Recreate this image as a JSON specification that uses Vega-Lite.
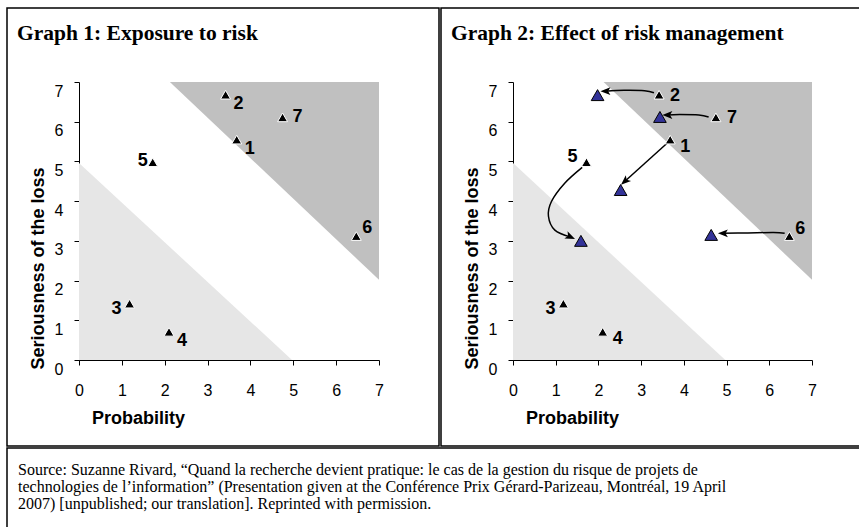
{
  "$schema": "https://vega.github.io/schema/vega-lite/v6.json",
  "background": "white",
  "padding": {"left": 6, "top": 7, "right": 0, "bottom": 0},
  "spacing": 0,
  "config": {
    "view": {"stroke": "#000", "strokeWidth": 1.5},
    "concat": {"spacing": 0},
    "axis": {"grid": false, "domainColor": "#000", "domainWidth": 1, "tickColor": "#000", "tickWidth": 1, "tickSize": 5, "labelFont": "Liberation Sans", "labelFontSize": 16, "labelColor": "#000", "labelFlush": false, "labelOverlap": false, "titleFont": "Liberation Sans", "titleFontSize": 18, "titleFontWeight": "bold", "titleColor": "#000"},
    "axisX": {"offset": -86, "labelPadding": 17, "titleX": 131, "titleY": 58, "titleBaseline": "middle"},
    "axisY": {"offset": -72, "labelPadding": 11, "labelOffset": 9, "titleX": -41, "titleY": 260, "titleBaseline": "middle"}
  },
  "datasets": {
    "light": [{"x": 0, "y": 4.96}, {"x": 4.97, "y": 0}],
    "dark": [{"x": 2.12, "y": 7, "y2": 7}, {"x": 7, "y": 7, "y2": 2.02}],
    "pts": [
      {"id": "1", "x": 3.68, "y": 5.55},
      {"id": "2", "x": 3.42, "y": 6.68},
      {"id": "3", "x": 1.18, "y": 1.42},
      {"id": "4", "x": 2.1, "y": 0.71},
      {"id": "5", "x": 1.72, "y": 4.98},
      {"id": "6", "x": 6.47, "y": 3.12},
      {"id": "7", "x": 4.75, "y": 6.11}
    ],
    "managed": [
      {"id": "1", "x": 2.52, "y": 4.28},
      {"id": "2", "x": 1.98, "y": 6.67},
      {"id": "5", "x": 1.59, "y": 3.0},
      {"id": "6", "x": 4.64, "y": 3.15},
      {"id": "7", "x": 3.44, "y": 6.12}
    ],
    "arrows": [
      {"id": "2", "step": 1, "x": 3.3, "y": 6.73},
      {"id": "2", "step": 2, "x": 3.08, "y": 6.78},
      {"id": "2", "step": 3, "x": 2.6, "y": 6.79},
      {"id": "2", "step": 4, "x": 2.17, "y": 6.77},
      {"id": "7", "step": 1, "x": 4.58, "y": 6.12},
      {"id": "7", "step": 2, "x": 4.35, "y": 6.17},
      {"id": "7", "step": 3, "x": 3.9, "y": 6.18},
      {"id": "7", "step": 4, "x": 3.62, "y": 6.17},
      {"id": "1", "step": 1, "x": 3.6, "y": 5.45},
      {"id": "1", "step": 2, "x": 2.62, "y": 4.5},
      {"id": "5", "step": 1, "x": 1.62, "y": 4.85},
      {"id": "5", "step": 2, "x": 1.21, "y": 4.45},
      {"id": "5", "step": 3, "x": 0.9, "y": 3.99},
      {"id": "5", "step": 4, "x": 0.83, "y": 3.62},
      {"id": "5", "step": 5, "x": 0.98, "y": 3.27},
      {"id": "5", "step": 6, "x": 1.34, "y": 3.1},
      {"id": "6", "step": 1, "x": 6.36, "y": 3.19},
      {"id": "6", "step": 2, "x": 6.1, "y": 3.21},
      {"id": "6", "step": 3, "x": 5.5, "y": 3.2},
      {"id": "6", "step": 4, "x": 4.92, "y": 3.19}
    ],
    "source": [
      {"lines": [
        "Source: Suzanne Rivard, “Quand la recherche devient pratique: le cas de la gestion du risque de projets de",
        "technologies de l’information” (Presentation given at the Conférence Prix Gérard-Parizeau, Montréal, 19 April",
        "2007) [unpublished; our translation]. Reprinted with permission."
      ]}
    ]
  },
  "vconcat": [
    {
      "spacing": 0,
      "hconcat": [
        {
          "width": 432,
          "height": 438,
          "title": {"text": "Graph 1: Exposure to risk", "anchor": "start", "frame": "group", "offset": -53, "dx": 10, "font": "Liberation Serif", "fontSize": 21.5, "fontWeight": "bold", "color": "#000", "baseline": "alphabetic"},
          "encoding": {
            "x": {"field": "x", "type": "quantitative", "scale": {"domain": [0, 7], "range": [72, 372], "nice": false, "zero": false}, "axis": {"title": "Probability", "values": [0, 1, 2, 3, 4, 5, 6, 7]}},
            "y": {"field": "y", "type": "quantitative", "scale": {"domain": [0, 7], "range": [352, 74], "nice": false, "zero": false}, "axis": {"title": "Seriousness of the loss", "values": [0, 1, 2, 3, 4, 5, 6, 7]}}
          },
          "layer": [
            {"data": {"name": "light"}, "mark": {"type": "area", "color": "#e6e6e6"}, "encoding": {"y2": {"datum": 0}}},
            {"data": {"name": "dark"}, "mark": {"type": "area", "color": "#c0c0c0"}, "encoding": {"y2": {"field": "y2"}}},
            {"data": {"name": "pts"},
             "encoding": {"text": {"field": "id"}},
             "layer": [
               {"mark": {"type": "point", "shape": "triangle-up", "size": 100, "filled": true, "fill": "#000", "stroke": "#fff", "strokeWidth": 1, "opacity": 1}},
               {"transform": [{"filter": {"field": "id", "oneOf": ["1", "2", "4"]}}], "mark": {"type": "text", "font": "Liberation Sans", "fontSize": 18, "fontWeight": "bold", "color": "#000", "align": "center", "baseline": "middle", "dx": 13, "dy": 9}},
               {"transform": [{"filter": {"field": "id", "oneOf": ["7"]}}], "mark": {"type": "text", "font": "Liberation Sans", "fontSize": 18, "fontWeight": "bold", "color": "#000", "align": "center", "baseline": "middle", "dx": 15, "dy": 0}},
               {"transform": [{"filter": {"field": "id", "oneOf": ["5"]}}], "mark": {"type": "text", "font": "Liberation Sans", "fontSize": 18, "fontWeight": "bold", "color": "#000", "align": "center", "baseline": "middle", "dx": -10, "dy": -1}},
               {"transform": [{"filter": {"field": "id", "oneOf": ["6"]}}], "mark": {"type": "text", "font": "Liberation Sans", "fontSize": 18, "fontWeight": "bold", "color": "#000", "align": "center", "baseline": "middle", "dx": 11, "dy": -8}},
               {"transform": [{"filter": {"field": "id", "oneOf": ["3"]}}], "mark": {"type": "text", "font": "Liberation Sans", "fontSize": 18, "fontWeight": "bold", "color": "#000", "align": "center", "baseline": "middle", "dx": -13, "dy": 5}}
             ]}
          ]
        },
        {
          "width": 421,
          "height": 438,
          "title": {"text": "Graph 2: Effect of risk management", "anchor": "start", "frame": "group", "offset": -53, "dx": 10, "font": "Liberation Serif", "fontSize": 21.5, "fontWeight": "bold", "color": "#000", "baseline": "alphabetic"},
          "encoding": {
            "x": {"field": "x", "type": "quantitative", "scale": {"domain": [0, 7], "range": [72, 371], "nice": false, "zero": false}, "axis": {"title": "Probability", "values": [0, 1, 2, 3, 4, 5, 6, 7]}},
            "y": {"field": "y", "type": "quantitative", "scale": {"domain": [0, 7], "range": [352, 74], "nice": false, "zero": false}, "axis": {"title": "Seriousness of the loss", "values": [0, 1, 2, 3, 4, 5, 6, 7]}}
          },
          "layer": [
            {"data": {"name": "light"}, "mark": {"type": "area", "color": "#e6e6e6"}, "encoding": {"y2": {"datum": 0}}},
            {"data": {"name": "dark"}, "mark": {"type": "area", "color": "#c0c0c0"}, "encoding": {"y2": {"field": "y2"}}},
            {"data": {"name": "arrows"}, "mark": {"type": "line", "color": "#000", "strokeWidth": 1.5, "interpolate": "cardinal"},
             "encoding": {"detail": {"field": "id"}, "order": {"field": "step", "type": "quantitative"}}},
            {"data": {"name": "managed"}, "mark": {"type": "point", "shape": "triangle-up", "size": 160, "filled": true, "fill": "#333399", "stroke": "#000", "strokeWidth": 1, "opacity": 1}},
            {"data": {"name": "arrows"},
             "transform": [{"joinaggregate": [{"op": "max", "field": "step", "as": "last"}], "groupby": ["id"]}, {"filter": "datum.step == datum.last"}],
             "layer": [
               {"transform": [{"filter": {"field": "id", "oneOf": ["2", "6", "7"]}}], "mark": {"type": "point", "shape": "M0,-1L0.75,0.9L0,0.45L-0.75,0.9Z", "size": 110, "filled": true, "color": "#000", "opacity": 1, "angle": 270}},
               {"transform": [{"filter": {"field": "id", "oneOf": ["1"]}}], "mark": {"type": "point", "shape": "M0,-1L0.75,0.9L0,0.45L-0.75,0.9Z", "size": 110, "filled": true, "color": "#000", "opacity": 1, "angle": 228}},
               {"transform": [{"filter": {"field": "id", "oneOf": ["5"]}}], "mark": {"type": "point", "shape": "M0,-1L0.75,0.9L0,0.45L-0.75,0.9Z", "size": 110, "filled": true, "color": "#000", "opacity": 1, "angle": 114}}
             ]},
            {"data": {"name": "pts"},
             "encoding": {"text": {"field": "id"}},
             "layer": [
               {"mark": {"type": "point", "shape": "triangle-up", "size": 100, "filled": true, "fill": "#000", "stroke": "#fff", "strokeWidth": 1, "opacity": 1}},
               {"transform": [{"filter": {"field": "id", "oneOf": ["2", "7"]}}], "mark": {"type": "text", "font": "Liberation Sans", "fontSize": 18, "fontWeight": "bold", "color": "#000", "align": "center", "baseline": "middle", "dx": 16, "dy": 1}},
               {"transform": [{"filter": {"field": "id", "oneOf": ["1", "4"]}}], "mark": {"type": "text", "font": "Liberation Sans", "fontSize": 18, "fontWeight": "bold", "color": "#000", "align": "center", "baseline": "middle", "dx": 15, "dy": 7}},
               {"transform": [{"filter": {"field": "id", "oneOf": ["5"]}}], "mark": {"type": "text", "font": "Liberation Sans", "fontSize": 18, "fontWeight": "bold", "color": "#000", "align": "center", "baseline": "middle", "dx": -14, "dy": -5}},
               {"transform": [{"filter": {"field": "id", "oneOf": ["6"]}}], "mark": {"type": "text", "font": "Liberation Sans", "fontSize": 18, "fontWeight": "bold", "color": "#000", "align": "center", "baseline": "middle", "dx": 11, "dy": -7}},
               {"transform": [{"filter": {"field": "id", "oneOf": ["3"]}}], "mark": {"type": "text", "font": "Liberation Sans", "fontSize": 18, "fontWeight": "bold", "color": "#000", "align": "center", "baseline": "middle", "dx": -13, "dy": 5}}
             ]}
          ]
        }
      ]
    },
    {
      "width": 853,
      "height": 82,
      "data": {"name": "source"},
      "mark": {"type": "text", "align": "left", "baseline": "alphabetic", "font": "Liberation Serif", "fontSize": 16, "lineHeight": 17, "color": "#000", "dx": 11},
      "encoding": {
        "x": {"datum": 0, "type": "quantitative", "scale": {"domain": [0, 1], "range": [0, 853]}, "axis": null},
        "y": {"datum": 0, "type": "quantitative", "scale": {"domain": [0, 1], "range": [27, 61]}, "axis": null},
        "text": {"field": "lines"}
      }
    }
  ]
}
